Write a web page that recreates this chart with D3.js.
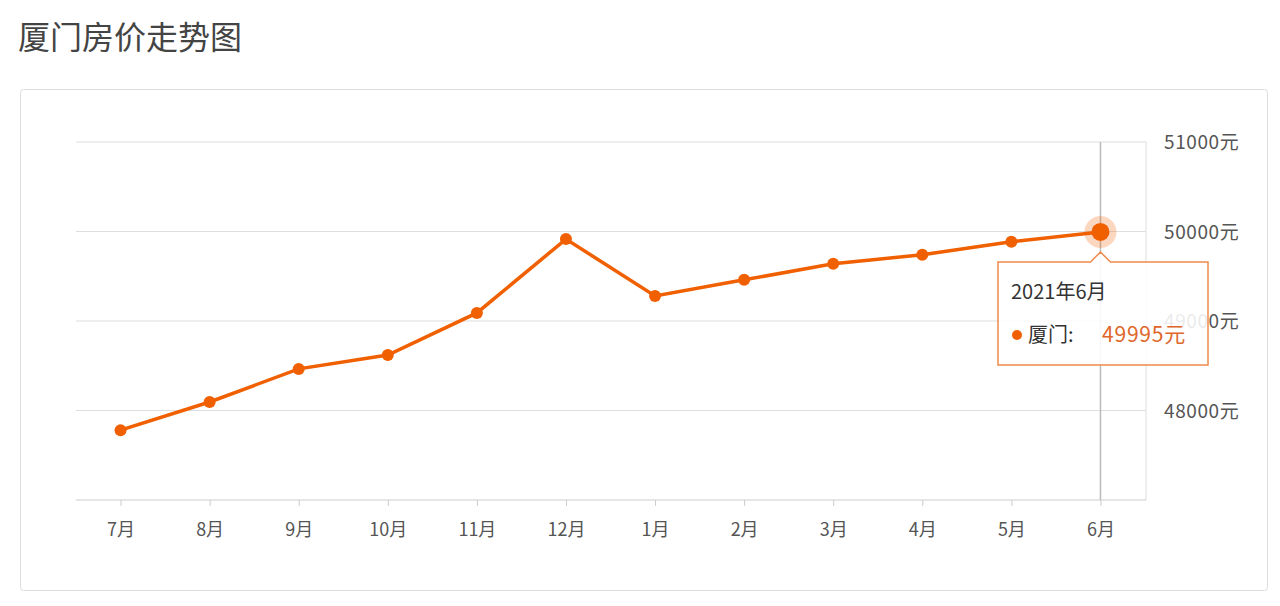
<!DOCTYPE html>
<html>
<head>
<meta charset="utf-8">
<script src="https://d3js.org/d3.v7.min.js"></script>
<style>
  body { margin: 0; background: #fff; font-family: "Noto Sans CJK SC", "Noto Sans", sans-serif; }
</style>
</head>
<body>
<script>
// data
var months = ["7月","8月","9月","10月","11月","12月","1月","2月","3月","4月","5月","6月"];
var prices = [47780, 48095, 48465, 48620, 49090, 49915, 49280, 49460, 49640, 49740, 49885, 49995];
var yTicks = [48000, 49000, 50000, 51000];

var svg = d3.select("body").append("svg").attr("width", 1280).attr("height", 606);

// title
svg.append("text").attr("x", 18).attr("y", 49)
  .attr("font-size", 32).attr("fill", "#444").text("厦门房价走势图");

// panel
svg.append("rect").attr("x", 20.5).attr("y", 89.5).attr("width", 1247).attr("height", 501)
  .attr("rx", 3).attr("fill", "#fff").attr("stroke", "#ddd");

var x = d3.scalePoint().domain(months).range([76, 1145]).padding(0.5);
var y = d3.scaleLinear().domain([47000, 51000]).range([500, 142]);

// grid
svg.append("g").selectAll("line").data(yTicks).join("line")
  .attr("x1", 76).attr("x2", 1146).attr("y1", d => y(d)).attr("y2", d => y(d))
  .attr("stroke", "#ddd");
svg.append("line").attr("x1", 1146).attr("x2", 1146).attr("y1", y(51000)).attr("y2", y(47000)).attr("stroke", "#ddd");

// y labels
svg.append("g").selectAll("text").data(yTicks).join("text")
  .attr("x", 1164).attr("y", d => y(d) + 7)
  .attr("font-size", 19).attr("letter-spacing", 0.6).attr("fill", "#555").text(d => d + "元");

// x axis
var xAxis = svg.append("g").attr("transform", "translate(0,500)")
  .call(d3.axisBottom(x).tickSize(6).tickPadding(17));
xAxis.select(".domain").attr("stroke", "#ccc").attr("d", "M76,0H1146");
xAxis.selectAll(".tick line").attr("stroke", "#ccc");
xAxis.selectAll(".tick text").attr("font-size", 18).attr("fill", "#555")
  .attr("font-family", "Noto Sans CJK SC, sans-serif");

// crosshair
var last = months.length - 1;
svg.append("line").attr("x1", x(months[last])).attr("x2", x(months[last]))
  .attr("y1", y(51000)).attr("y2", 500).attr("stroke", "#bbb").attr("stroke-width", 1.5);

// line
var orange = "#f06000";
svg.append("path").datum(prices)
  .attr("fill", "none").attr("stroke", orange).attr("stroke-width", 3.5)
  .attr("d", d3.line().x((d, i) => x(months[i])).y(d => y(d)));

svg.append("g").selectAll("circle").data(prices).join("circle")
  .attr("cx", (d, i) => x(months[i])).attr("cy", d => y(d)).attr("r", 6).attr("fill", orange);

// highlighted point
var hx = x(months[last]), hy = y(prices[last]);
svg.append("circle").attr("cx", hx).attr("cy", hy).attr("r", 16).attr("fill", orange).attr("opacity", 0.25);
svg.append("circle").attr("cx", hx).attr("cy", hy).attr("r", 9).attr("fill", orange);

// tooltip
var tx = 998, ty = 262, tw = 210, th = 103;
svg.append("path")
  .attr("d", `M${tx},${ty}H${hx - 10}L${hx},${ty - 10}L${hx + 10},${ty}H${tx + tw}V${ty + th}H${tx}Z`)
  .attr("fill", "rgba(255,255,255,0.88)").attr("stroke", "#f08a4b").attr("stroke-width", 1.5);
svg.append("text").attr("x", tx + 13).attr("y", ty + 37).attr("font-size", 20).attr("fill", "#333").text("2021年6月");
svg.append("circle").attr("cx", tx + 19).attr("cy", ty + 73).attr("r", 5).attr("fill", orange);
svg.append("text").attr("x", tx + 30).attr("y", ty + 80).attr("font-size", 20).attr("fill", "#333").text("厦门:");
svg.append("text").attr("x", tx + 104).attr("y", ty + 80).attr("font-size", 21).attr("letter-spacing", 0.8).attr("fill", "#e0662a").text(prices[last] + "元");
</script>
</body>
</html>
